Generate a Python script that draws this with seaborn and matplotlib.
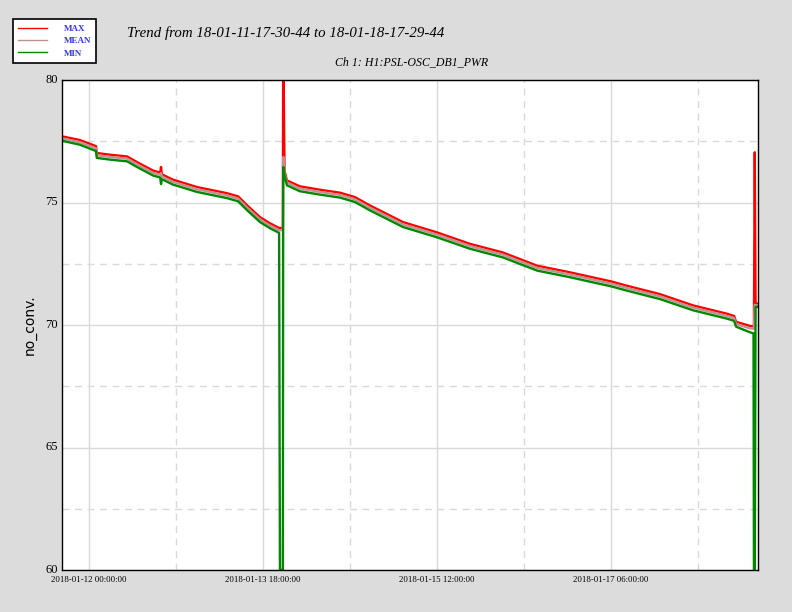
import matplotlib
matplotlib.use("Agg")
import matplotlib.pyplot as plt
import matplotlib.dates as mdates
import matplotlib.transforms as mtransforms
from matplotlib.ticker import FixedLocator, MultipleLocator
import pandas as pd
import seaborn as sns

# Trend window
start = pd.Timestamp("2018-01-11 17:30:44")
end = pd.Timestamp("2018-01-18 17:29:44")

hours = [0.0, 4.3, 8.2, 8.4, 11.6, 15.7, 18.1, 22.0, 23.7, 23.9, 24.1, 26.8,
         32.6, 39.8, 42.5, 44.7, 47.8, 50.2, 52.4, 52.6, 53.3, 53.4, 53.7,
         54.3, 57.4, 62.3, 67.1, 70.7, 74.3, 82.3, 90.5, 98.5, 106.4, 114.7,
         122.6, 128.2, 132.5, 136.4, 144.3, 152.3, 160.5, 162.2, 162.7, 166.1,
         166.9, 167.0, 167.2, 167.4, 167.9]

max_vals = [77.70, 77.55, 77.30, 77.02, 76.95, 76.88, 76.65, 76.30, 76.22, 76.45,
            76.15, 75.93, 75.63, 75.38, 75.25, 74.88, 74.40, 74.15, 73.96, 73.96,
            73.96, 82.00, 76.30, 75.90, 75.66, 75.52, 75.40, 75.22, 74.88, 74.20,
            73.78, 73.31, 72.96, 72.42, 72.15, 71.94, 71.78, 71.60, 71.26, 70.80,
            70.46, 70.37, 70.13, 69.96, 69.95, 69.94, 77.05, 70.87, 70.87]

mean_vals = [77.62, 77.46, 77.21, 76.93, 76.86, 76.79, 76.56, 76.21, 76.13, 76.20,
             76.06, 75.84, 75.54, 75.29, 75.16, 74.79, 74.31, 74.06, 73.87, 73.87,
             73.87, 76.86, 76.21, 75.81, 75.57, 75.43, 75.31, 75.13, 74.79, 74.11,
             73.69, 73.22, 72.87, 72.33, 72.06, 71.85, 71.69, 71.51, 71.17, 70.71,
             70.37, 70.28, 70.04, 69.86, 69.85, 69.84, 70.82, 70.81, 70.81]

min_vals = [77.52, 77.36, 77.10, 76.82, 76.75, 76.68, 76.45, 76.10, 76.02, 75.75,
            75.95, 75.73, 75.43, 75.18, 75.05, 74.68, 74.20, 73.95, 73.76, 60.00,
            60.00, 76.45, 76.10, 75.70, 75.46, 75.32, 75.20, 75.02, 74.68, 74.00,
            73.58, 73.11, 72.76, 72.22, 71.95, 71.74, 71.58, 71.40, 71.06, 70.60,
            70.26, 70.17, 69.93, 69.70, 69.66, 60.00, 60.00, 70.74, 70.74]

major_ticks = ["2018-01-12 00:00:00", "2018-01-13 18:00:00",
               "2018-01-15 12:00:00", "2018-01-17 06:00:00"]
minor_ticks = ["2018-01-12 21:00:00", "2018-01-14 15:00:00",
               "2018-01-16 09:00:00", "2018-01-18 03:00:00"]

df = pd.DataFrame({
    "time": start + pd.to_timedelta(hours, unit="h"),
    "MAX": max_vals,
    "MEAN": mean_vals,
    "MIN": min_vals,
})

fig = plt.figure(figsize=(7.92, 6.12), dpi=100, facecolor="#dcdcdc")
ax = fig.add_axes([62 / 792, 1 - 570 / 612, 696 / 792, 490 / 612])
ax.set_facecolor("white")

colors = {"MAX": "#ff0000", "MEAN": "#c09090", "MIN": "#008800"}
for col in ["MAX", "MEAN", "MIN"]:
    sns.lineplot(data=df, x="time", y=col, ax=ax, color=colors[col], lw=1.7,
                 label=col, legend=False)

ax.set_xlim(start, end)
ax.set_ylim(60, 80)

# Grid: solid at majors, dashed at minors
ax.xaxis.set_major_locator(FixedLocator(mdates.date2num(pd.to_datetime(major_ticks))))
ax.xaxis.set_minor_locator(FixedLocator(mdates.date2num(pd.to_datetime(minor_ticks))))
ax.xaxis.set_major_formatter(mdates.DateFormatter("%Y-%m-%d %H:%M:%S"))
ax.yaxis.set_major_locator(MultipleLocator(5))
ax.yaxis.set_minor_locator(MultipleLocator(2.5))
ax.grid(which="major", color="#d9d9d9", lw=1, ls="-")
ax.grid(which="minor", color="#d9d9d9", lw=1, ls=(0, (5, 4)))
ax.set_axisbelow(True)

ax.tick_params(which="both", length=0)
ax.tick_params(axis="x", pad=4)
ax.tick_params(axis="y", pad=3)
for lab in ax.get_xticklabels():
    lab.set_family("Liberation Serif")
    lab.set_fontsize(6.3)
raise_lab = mtransforms.ScaledTranslation(0, 1.2 / 72, fig.dpi_scale_trans)
for lab in ax.get_yticklabels():
    lab.set_family("Liberation Serif")
    lab.set_fontsize(9)
    lab.set_transform(lab.get_transform() + raise_lab)

for s in ax.spines.values():
    s.set_color("black")
    s.set_linewidth(1)

ax.set_xlabel("")
ax.set_ylabel("no_conv.", fontsize=10, family="DejaVu Sans", labelpad=6)

fig.text(127 / 792, 1 - 33 / 612, "Trend from 18-01-11-17-30-44 to 18-01-18-17-29-44",
         family="Liberation Serif", style="italic", fontsize=10.7, va="center", ha="left")
fig.text(335 / 792, 1 - 62 / 612, "Ch 1: H1:PSL-OSC_DB1_PWR",
         family="Liberation Serif", style="italic", fontsize=8.6, va="center", ha="left")

handles, labels = ax.get_legend_handles_labels()
leg = fig.legend(handles, labels, loc="upper left",
                 bbox_to_anchor=(13 / 792, 1 - 19 / 612), frameon=True,
                 fancybox=False, edgecolor="black", framealpha=1,
                 prop={"family": "Liberation Serif", "size": 6.5, "weight": "bold"},
                 handlelength=3.2, labelspacing=0.45, borderpad=0.6,
                 handletextpad=1.8, borderaxespad=0)
leg.get_frame().set_linewidth(1.2)
for t in leg.get_texts():
    t.set_color("#3333ee")
for h in leg.get_lines():
    h.set_linewidth(1)

fig.savefig("out.png", dpi=100, facecolor=fig.get_facecolor())
